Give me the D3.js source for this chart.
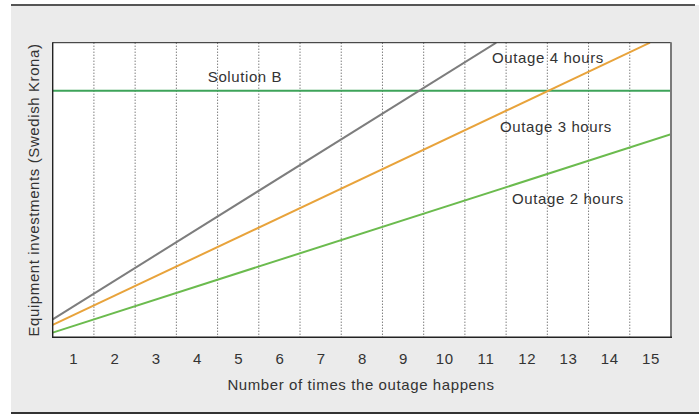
<!DOCTYPE html>
<html>
<head>
<meta charset="utf-8">
<script src="https://cdn.jsdelivr.net/npm/d3@7"></script>
<style>
  html, body { margin: 0; padding: 0; background: #ffffff; }
  svg { display: block; }
  text { font-family: "Liberation Sans", Arial, Helvetica, sans-serif; fill: #333333; }
</style>
</head>
<body>
<svg id="chart" width="699" height="414"></svg>
<script>
// ---- data ----
const categories = [1, 2, 3, 4, 5, 6, 7, 8, 9, 10, 11, 12, 13, 14, 15];
const xTitle = "Number of times the outage happens";
const yTitle = "Equipment investments (Swedish Krona)";
// investment (relative units 0-100) vs number of times: [n, value]
const outage4 = [[0.5, 6.1], [11.26, 100]];
const outage3 = [[0.5, 4.2], [14.99, 100]];
const outage2 = [[0.5, 1.6], [15.5, 68.9]];
const solutionB = [[0.5, 83.7], [15.5, 83.7]];
const seriesNames = ["Outage 4 hours", "Outage 3 hours", "Outage 2 hours", "Solution B"];

// ---- layout ----
const svg = d3.select("#chart");
const W = 699, H = 414;
const plot = { left: 52.7, right: 671, top: 42.7, bottom: 337.3 };
const FS = 15, LS = "0.6px";

svg.append("rect").attr("x", 11).attr("y", 5).attr("width", W - 11).attr("height", H - 5).attr("fill", "#ebebeb");
svg.append("line").attr("x1", 11).attr("x2", 695).attr("y1", 5).attr("y2", 5).attr("stroke", "#555").attr("stroke-width", 2);
svg.append("line").attr("x1", 11).attr("x2", 699).attr("y1", 413).attr("y2", 413).attr("stroke", "#333").attr("stroke-width", 2);

const x = d3.scaleLinear().domain([0.5, 15.5]).range([plot.left, plot.right]);
const y = d3.scaleLinear().domain([0, 100]).range([plot.bottom, plot.top]);

const defs = svg.append("defs");
defs.append("clipPath").attr("id", "clip").append("rect")
  .attr("x", plot.left).attr("y", plot.top)
  .attr("width", plot.right - plot.left).attr("height", plot.bottom - plot.top);

svg.append("rect").attr("x", plot.left).attr("y", plot.top)
  .attr("width", plot.right - plot.left).attr("height", plot.bottom - plot.top)
  .attr("fill", "#ffffff");

// dotted gridlines at band boundaries
const gridVals = categories.slice(0, -1).map(c => c + 0.5);
svg.append("g").selectAll("line").data(gridVals).join("line")
  .attr("x1", d => x(d)).attr("x2", d => x(d))
  .attr("y1", plot.top).attr("y2", plot.bottom)
  .attr("stroke", "#444").attr("stroke-width", 1).attr("stroke-dasharray", "1,2");

// lines
const lineGen = d3.line().x(d => x(d[0])).y(d => y(d[1]));
const g = svg.append("g").attr("clip-path", "url(#clip)");
const seriesDefs = [
  { data: solutionB, color: "#3ea35a" },
  { data: outage2, color: "#6bbb4e" },
  { data: outage3, color: "#e8a33b" },
  { data: outage4, color: "#7d7d7d" }
];
seriesDefs.forEach(s => {
  g.append("path").datum(s.data).attr("d", lineGen)
    .attr("fill", "none").attr("stroke", s.color).attr("stroke-width", 2);
});

// frame of plot
svg.append("line").attr("x1", plot.left).attr("x2", plot.right).attr("y1", plot.top).attr("y2", plot.top).attr("stroke", "#222").attr("stroke-width", 1);
svg.append("line").attr("x1", plot.right).attr("x2", plot.right).attr("y1", plot.top - 0.5).attr("y2", plot.bottom).attr("stroke", "#7a7a7a").attr("stroke-width", 2);
svg.append("line").attr("x1", plot.left).attr("x2", plot.left).attr("y1", plot.top - 0.5).attr("y2", plot.bottom + 0.7).attr("stroke", "#222").attr("stroke-width", 1.4);
svg.append("line").attr("x1", plot.left).attr("x2", plot.right + 1).attr("y1", plot.bottom).attr("y2", plot.bottom).attr("stroke", "#222").attr("stroke-width", 1.4);

// x axis tick labels
const xAxis = d3.axisBottom(x).tickValues(categories).tickSize(0).tickPadding(0).tickFormat(d3.format("d"));
const ax = svg.append("g").attr("transform", `translate(0,${plot.bottom})`).call(xAxis);
ax.select(".domain").remove();
ax.selectAll("text").attr("y", 27).attr("dy", 0).attr("font-size", FS)
  .style("font-family", '"Liberation Sans", Arial, sans-serif').style("letter-spacing", LS).attr("fill", "#333");

// titles
svg.append("text").attr("x", 361).attr("y", 390).attr("text-anchor", "middle").attr("font-size", FS).style("letter-spacing", LS).text(xTitle);
svg.append("text").attr("transform", "translate(39,190) rotate(-90)").attr("text-anchor", "middle").attr("font-size", FS).style("letter-spacing", LS).text(yTitle);

// series labels
const labels = [
  { name: seriesNames[3], x: 245, y: 82 },
  { name: seriesNames[0], x: 548, y: 63 },
  { name: seriesNames[1], x: 556, y: 132 },
  { name: seriesNames[2], x: 568, y: 204 }
];
svg.append("g").selectAll("text").data(labels).join("text")
  .attr("x", d => d.x).attr("y", d => d.y).attr("text-anchor", "middle")
  .attr("font-size", FS).style("letter-spacing", LS).text(d => d.name);
</script>
</body>
</html>
